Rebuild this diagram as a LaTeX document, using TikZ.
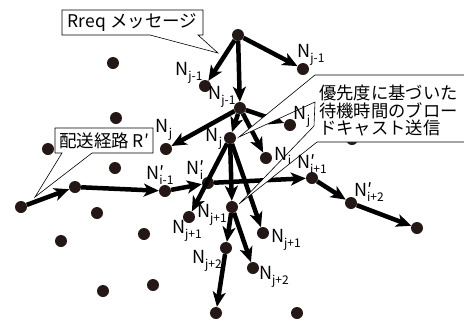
\documentclass[tikz,border=0pt]{standalone}
\usepackage{fontspec}
\setmainfont{Noto Sans CJK JP}
\usetikzlibrary{arrows.meta}
\definecolor{dotc}{HTML}{231815}
\newcommand{\Ns}[1]{N\raisebox{-4.5pt}{\fontsize{12}{12}\selectfont #1}}
\newcommand{\Nps}[1]{N\rlap{\raisebox{0.5pt}{′}}\raisebox{-4.5pt}{\fontsize{12}{12}\selectfont #1}}
\begin{document}
\begin{tikzpicture}[x=1pt,y=-1pt,
  dot/.style={circle,fill=dotc,inner sep=0pt,minimum size=12pt},
  arr/.style={line width=4.5pt,-{Stealth[length=15pt,width=13pt,inset=4pt]}},
  lbl/.style={font=\fontsize{18}{18}\selectfont,inner sep=0pt},
  callout/.style={draw=black,line width=0.6pt,fill=white,line join=miter},
  ctext/.style={font=\fontsize{17.5}{17.5}\selectfont,inner sep=0pt}]
\useasboundingbox (0,0) rectangle (464,322);
% dots
\node[dot] (t) at (238,35) {};
\node[dot] (a1) at (205,86) {};
\node[dot] (a2) at (303,69) {};
\node[dot] (c) at (240,108) {};
\node[dot] (b1) at (166,149) {};
\node[dot] (b2) at (230,138) {};
\node[dot] (b3) at (290,125) {};
\node[dot] (b4) at (266,158) {};
\node[dot] (d1) at (189,217) {};
\node[dot] (d2) at (232,207) {};
\node[dot] (d3) at (263,233) {};
\node[dot] (e1) at (226,248) {};
\node[dot] (e2) at (253,268) {};
\node[dot] (f1) at (216,313) {};
\node[dot] (r0) at (21,207) {};
\node[dot] (r1) at (75,187) {};
\node[dot] (r2) at (165,191) {};
\node[dot] (r3) at (208,183) {};
\node[dot] (r4) at (312,178) {};
\node[dot] (r5) at (351,203) {};
\node[dot] (r6) at (417,228) {};
\node[dot] (o1) at (113,63) {};
\node[dot] (o2) at (116,118) {};
\node[dot] (o3) at (48,149) {};
\node[dot] (o4) at (115,168) {};
\node[dot] (o5) at (97,213) {};
\node[dot] (o6) at (144,234) {};
\node[dot] (o7) at (61,241) {};
\node[dot] (o8) at (103,291) {};
\node[dot] (o9) at (153,285) {};
\node[dot] (o10) at (297,313) {};
\node[dot] (o11) at (352,139) {};
% arrows
\draw[arr] (t) -- (a1);
\draw[arr] (t) -- (a2);
\draw[arr] (t) -- (c);
\draw[arr] (c) -- (b1);
\draw[arr] (c) -- (b2);
\draw[arr] (c) -- (b3);
\draw[arr] (c) -- (b4);
\draw[arr] (b2) -- (d1);
\draw[arr] (b2) -- (d2);
\draw[arr] (b2) -- (d3);
\draw[arr] (d2) -- (e1);
\draw[arr] (d2) -- (e2);
\draw[arr] (e1) -- (f1);
\draw[arr] (r0) -- (r1);
\draw[arr] (r1) -- (r2);
\draw[arr] (r2) -- (r3);
\draw[arr] (r3) -- (r4);
\draw[arr] (r4) -- (r5);
\draw[arr] (r5) -- (r6);
% callouts
\draw[callout] (62,10) -- (203,10) -- (203,35) -- (198,35) -- (218,53) -- (150,35) -- (62,35) -- cycle;
\node[ctext] (c1) at (132.5,22.5) {Rreq メッセージ};
\draw[callout] (55,128) -- (153,128) -- (153,153) -- (92,153) -- (35,197) -- (62,153) -- (55,153) -- cycle;
\node[ctext] (c2) at (104,140.5) {配送経路 R′};
\draw[callout] (315,75) -- (470,75) -- (470,142) -- (317,142) -- (239,204) -- (314,126) -- (315,102) -- (239,137) -- cycle;
\node[font=\fontsize{17.3}{17.5}\selectfont,inner sep=0pt,anchor=west,align=left] (c3) at (319,111) {優先度に基づいた\\待機時間のブロー\\ドキャスト送信};
% labels
\node[lbl] (la1) at (189,73) {\Ns{j-1}};
\node[lbl] (la2) at (311,55) {\Ns{j-1}};
\node[lbl] (lc) at (222,97) {\Ns{j-1}};
\node[lbl] (lb1) at (164,130) {\Ns{j}};
\node[lbl] (lb2) at (214,139) {\Ns{j}};
\node[lbl] (lb3) at (302,117) {\Ns{j}};
\node[lbl] (lb4) at (283,156) {\Ns{i}};
\node[lbl] (lr2) at (160,175) {\Nps{i-1}};
\node[lbl] (lr3) at (195,170) {\Nps{i}};
\node[lbl] (lr4) at (312,164) {\Nps{i+1}};
\node[lbl] (lr5) at (369,192) {\Nps{i+2}};
\node[lbl] (ld1) at (187,231) {\Ns{j+1}};
\node[lbl] (ld2) at (212,215) {\Ns{j+1}};
\node[lbl] (ld3) at (286,240) {\Ns{j+1}};
\node[lbl] (le1) at (207,261) {\Ns{j+2}};
\node[lbl] (le2) at (274,277) {\Ns{j+2}};
\end{tikzpicture}
\end{document}
